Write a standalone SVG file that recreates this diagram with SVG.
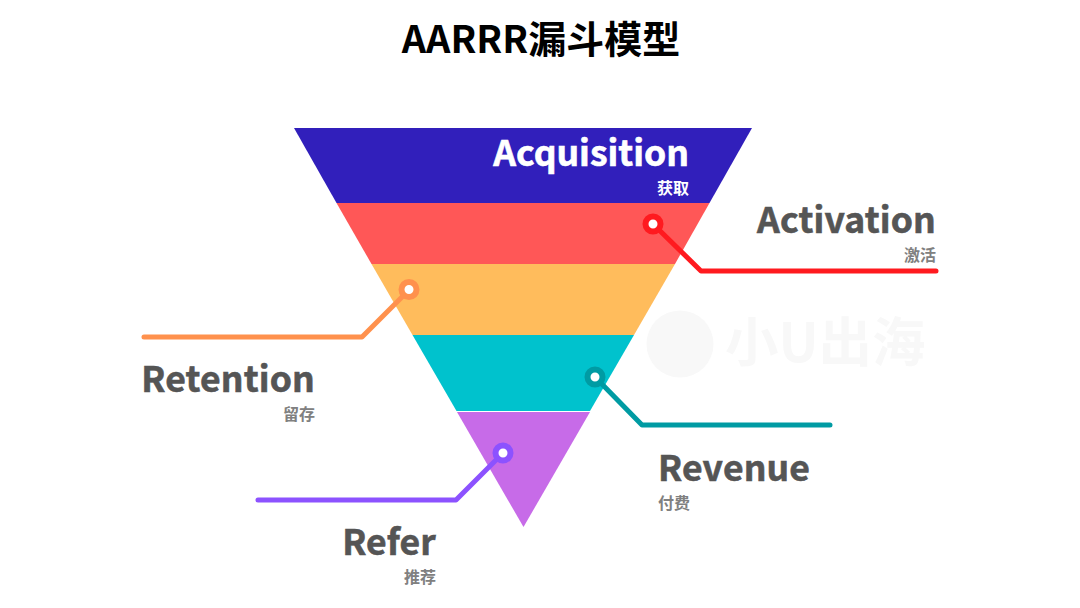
<svg xmlns="http://www.w3.org/2000/svg" width="1080" height="608" viewBox="0 0 1080 608">
<style>
text{font-family:"Noto Sans CJK SC","Noto Sans",sans-serif;font-weight:700}
.t{font-size:35.500px;fill:#555;stroke:#555;stroke-width:.6;text-anchor:end;letter-spacing:.15px}
.s{font-size:16px;fill:#808080;text-anchor:end}
.l{fill:none;stroke-width:5;stroke-linecap:round;stroke-linejoin:round}
.d{fill:#fff;stroke-width:6}
</style>
<rect width="1080" height="608" fill="#fff"/>
<text id="title" x="541" y="53" font-size="38" fill="#000" text-anchor="middle">AARRR漏斗模型</text>
<g id="watermark" fill="#f8f8f8">
<circle cx="680" cy="344" r="33.500"/>
<text x="725" y="362" font-size="53.500" style="font-weight:700">小U出海</text>
</g>
<g id="funnel">
<polygon id="band-acquisition" points="294,128 752,128 709.500,203 336.500,203" fill="#311fbb"/>
<polygon id="band-activation" points="336.500,203 709.500,203 675,264 371.500,264" fill="#ff5757"/>
<polygon id="band-retention" points="371.500,264 675,264 634,335 412.500,335" fill="#ffbc5c"/>
<polygon id="band-revenue" points="412.500,335 634,335 590,411 456.500,411" fill="#00c2cd"/>
<polygon id="band-refer" points="457,412 590,412 523.500,527" fill="#c76be8"/>
</g>
<g id="connectors">
<polyline class="l" stroke="#ff1a1f" points="653,224 701,271 936,271"/>
<polyline class="l" stroke="#ff914d" points="409,290 362,337 144,337"/>
<polyline class="l" stroke="#009ba3" points="595,377 642,425 830,425"/>
<polyline class="l" stroke="#8c52ff" points="503,453 456,500 258,500"/>
</g>
<g id="node-acquisition">
<text x="689" y="166" font-size="35.500" fill="#fff" stroke="#fff" stroke-width=".6" text-anchor="end">Acquisition</text>
<text x="689" y="194" font-size="16" fill="#fff" text-anchor="end">获取</text>
</g>
<g id="node-activation">
<circle class="d" cx="653" cy="224" r="7.500" stroke="#ff1a1f"/>
<text class="t" x="936" y="233">Activation</text>
<text class="s" x="936" y="261">激活</text>
</g>
<g id="node-retention">
<circle class="d" cx="409" cy="289.500" r="7.500" stroke="#ff914d"/>
<text class="t" x="315" y="392">Retention</text>
<text class="s" x="315" y="420">留存</text>
</g>
<g id="node-revenue">
<circle class="d" cx="595" cy="377" r="7.500" stroke="#009ba3"/>
<text class="t" x="658" y="481" style="text-anchor:start">Revenue</text>
<text class="s" x="658" y="509" style="text-anchor:start">付费</text>
</g>
<g id="node-refer">
<circle class="d" cx="503" cy="453" r="7.500" stroke="#8c52ff"/>
<text class="t" x="436" y="555">Refer</text>
<text class="s" x="436" y="583">推荐</text>
</g>
</svg>
